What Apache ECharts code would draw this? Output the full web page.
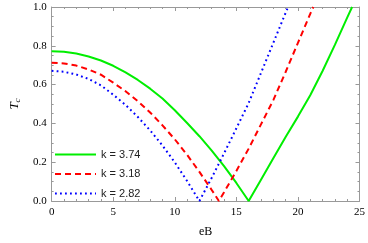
<!DOCTYPE html>
<html>
<head>
<meta charset="utf-8">
<script src="https://cdn.jsdelivr.net/npm/echarts@6/dist/echarts.min.js"></script>
<style>html,body{margin:0;padding:0;background:#fff}#c{width:368px;height:243px}</style>
</head>
<body>
<div id="c"></div>
<script>
// eB values and T_c values
var greenB = [0,1,2,3,4,5,6,7,8,9,10,11,12,13,14,15,16,17,18,19,20,21,22,23,24,24.4];
var greenT = [0.772,0.769,0.760,0.745,0.724,0.697,0.663,0.624,0.579,0.528,0.468,0.402,0.334,0.260,0.180,0.093,0,0.11,0.22,0.33,0.435,0.545,0.67,0.805,0.945,1.0];
var redB = [0,1,2,3,4,5,6,7,8,9,10,11,12,13,13.58,14,15,16,17,18,19,20,21,21.25];
var redT = [0.713,0.709,0.698,0.678,0.651,0.610,0.566,0.514,0.456,0.390,0.318,0.238,0.150,0.057,0,0.045,0.155,0.27,0.395,0.52,0.665,0.815,0.965,1.0];
var blueB = [0,1,2,3,4,5,6,7,8,9,10,11,12,13,14,15,16,17,18,19,19.2];
var blueT = [0.671,0.666,0.652,0.629,0.596,0.548,0.495,0.433,0.364,0.286,0.199,0.103,0,0.12,0.245,0.375,0.505,0.66,0.815,0.97,1.0];
var seriesNames = ['k = 3.74','k = 3.18','k = 2.82'];
var xTicks = [0,5,10,15,20,25];
var yTicks = [0,0.2,0.4,0.6,0.8,1.0];

function pairs(xs, ys){ return xs.map(function(x,i){return [x, ys[i]];}); }

var frameColor = '#999999';
var serif = '"Liberation Serif","Times New Roman",serif';
function xAx(pos, showLabel){
  return {
    type:'value', position:pos, min:xTicks[0], max:xTicks[xTicks.length-1], interval:5,
    axisLine:{show:true, onZero:false, lineStyle:{color:frameColor, width:1}},
    axisTick:{show:true, inside:true, length:4, lineStyle:{color:frameColor}},
    minorTick:{show:true, splitNumber:5, length:2, lineStyle:{color:frameColor}},
    splitLine:{show:false},
    axisLabel:{show:showLabel, color:'#000', fontFamily:serif, fontSize:11, margin:6},
    name: showLabel ? 'eB' : '', nameLocation:'middle', nameGap:25,
    nameTextStyle:{color:'#000', fontFamily:serif, fontSize:12}
  };
}
function yAx(pos, showLabel){
  return {
    type:'value', position:pos, min:yTicks[0], max:yTicks[yTicks.length-1], interval:0.2,
    axisLine:{show:true, onZero:false, lineStyle:{color:frameColor, width:1}},
    axisTick:{show:true, inside:true, length:4, lineStyle:{color:frameColor}},
    minorTick:{show:true, splitNumber:4, length:2, lineStyle:{color:frameColor}},
    splitLine:{show:false},
    axisLabel:{show:showLabel, color:'#000', fontFamily:serif, fontSize:11, margin:5,
      formatter:function(v){return v.toFixed(1);}},
    name: showLabel ? '{t|T}{s|c}' : '', nameLocation:'middle', nameGap:22, nameRotate:90,
    nameTextStyle:{rich:{
      t:{fontFamily:serif, fontStyle:'italic', fontSize:13, color:'#000'},
      s:{fontFamily:serif, fontStyle:'italic', fontSize:9, color:'#000', padding:[6,0,0,0]}
    }}
  };
}

var chart = echarts.init(document.getElementById('c'), null, {renderer:'canvas'});
chart.setOption({
  animation:false,
  grid:{left:38, right:8, top:7, bottom:38},
  xAxis:[xAx('bottom', true), xAx('top', false)],
  yAxis:[yAx('left', true), yAx('right', false)],
  legend:{
    orient:'vertical', left:49, top:144, itemWidth:41, itemHeight:12, itemGap:8.5,
    data:seriesNames,
    itemStyle:{opacity:0},
    textStyle:{fontFamily:'"Liberation Sans",Arial,sans-serif', fontSize:11, color:'#222'}
  },
  series:[
    {name:seriesNames[0], type:'line', data:pairs(greenB, greenT), symbol:'none', clip:true,
     lineStyle:{color:'#00ee00', width:2, type:'solid'}, itemStyle:{color:'#00ee00'}},
    {name:seriesNames[1], type:'line', data:pairs(redB, redT), symbol:'none', clip:true,
     lineStyle:{color:'#ff0000', width:2, type:[6,4]}, itemStyle:{color:'#ff0000'}},
    {name:seriesNames[2], type:'line', data:pairs(blueB, blueT), symbol:'none', clip:true,
     lineStyle:{color:'#0000ff', width:2, type:[1.8,3.2]}, itemStyle:{color:'#0000ff'}}
  ]
});
</script>
</body>
</html>
